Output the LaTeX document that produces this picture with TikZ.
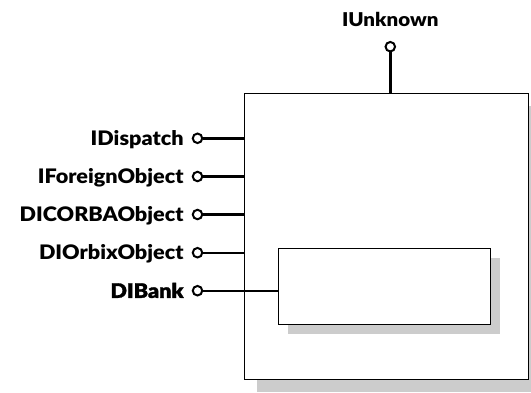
\documentclass[tikz,border=0pt]{standalone}
\usepackage{fontspec}
\setmainfont{Lato}
\newfontfamily\labelfont{Lato Black}[FakeStretch=1.08]
\newfontfamily\heavyfont{Lato Black}[FakeStretch=1.08,FakeBold=1.5]
\usepackage{xcolor}
\usepackage{tikz}
\usetikzlibrary{positioning,shadows}
\definecolor{ShadowGray}{HTML}{CCCCCC}

\begin{document}
\begin{tikzpicture}[x=1pt,y=-1pt,
  compbox/.style={draw,line width=1.1pt,fill=white,
    drop shadow={shadow xshift=12.5pt,shadow yshift=-12.5pt,fill=ShadowGray,opacity=1}},
  innerbox/.style={draw,line width=1.1pt,fill=white,
    drop shadow={shadow xshift=9pt,shadow yshift=-9pt,fill=ShadowGray,opacity=1}},
  lolli/.style={circle,draw,line width=2pt,fill=white,inner sep=0pt,minimum size=9.5pt},
  iface/.style={font=\fontsize{20}{24}\labelfont,inner sep=0pt,text height=14.3pt,text depth=0pt},
  wire/.style={line width=2.4pt}]
\useasboundingbox (0,0) rectangle (531,392);

% the object and its inner part
\node[compbox,anchor=north west,minimum width=283.5pt,minimum height=286.5pt] (obj) at (244.3,92.7) {};
\node[innerbox,anchor=north west,minimum width=212pt,minimum height=76pt] (bank) at (278,248.3) {};

% lollipops
\node[lolli] (pUnk) at (390.3,46.7) {};
\node[lolli] (pDisp) at (197.5,138.3) {};
\node[lolli] (pForeign) at (197.5,176.5) {};
\node[lolli] (pCorba) at (197.5,214.5) {};
\node[lolli] (pOrbix) at (197.5,252.7) {};
\node[lolli] (pBank) at (197.5,290.7) {};

% interface names
\node[iface,font=\fontsize{19}{22}\labelfont,text height=13.6pt,above=14pt of pUnk] (lUnk) {IUnknown};
\node[iface,left=8pt of pDisp] (lDisp) {IDispatch};
\node[iface,left=8pt of pForeign] (lForeign) {IForeignObject};
\node[iface,left=8pt of pCorba] (lCorba) {DICORBAObject};
\node[iface,left=8pt of pOrbix] (lOrbix) {DIOrbixObject};
\node[iface,font=\fontsize{20}{24}\heavyfont,left=8pt of pBank] (lBank) {DIBank};

% connectors
\draw[wire] (pUnk) -- (pUnk |- obj.north);
\draw[wire] (pDisp) -- (pDisp -| obj.west);
\draw[wire] (pForeign) -- (pForeign -| obj.west);
\draw[wire] (pCorba) -- (pCorba -| obj.west);
\draw[wire] (pOrbix) -- (pOrbix -| obj.west);
\draw[wire] (pBank) -- (pBank -| bank.west);
\end{tikzpicture}
\end{document}
